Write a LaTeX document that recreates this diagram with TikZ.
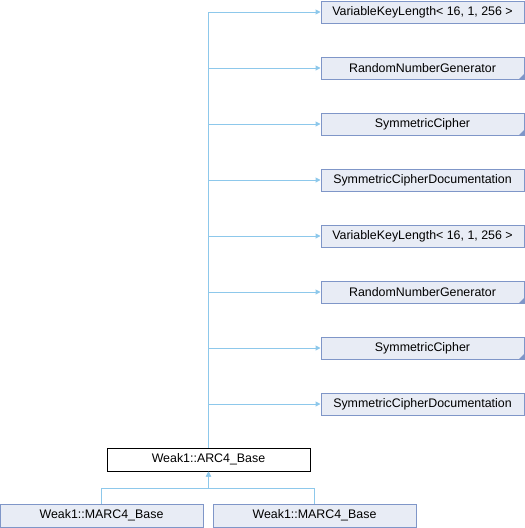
\documentclass[tikz,border=0pt]{standalone}
\usepackage{fontspec}
\setmainfont{Liberation Sans}
\usetikzlibrary{arrows.meta}
\definecolor{boxfill}{HTML}{E8ECF5}
\definecolor{boxline}{HTML}{7F96C8}
\definecolor{linkcol}{HTML}{8DC8EB}
\tikzset{every node/.style={align=center}}
\tikzset{
  classbox/.style={draw=boxline,fill=boxfill,line width=1pt,minimum width=203pt,minimum height=22pt,inner sep=0pt,font=\fontsize{12.4}{14}\selectfont},
  curbox/.style={classbox,draw=black,fill=white},
  link/.style={draw=linkcol,line width=1pt,-{Triangle[length=5pt,width=5pt]}}
}

\begin{document}
\begin{tikzpicture}[x=1pt,y=-1pt]
        \useasboundingbox (0,0) rectangle (525,528);

        \node[classbox] (vkl1) at (422.5,12) {VariableKeyLength< 16, 1, 256 >};
        \node[classbox] (rng1) at (422.5,68) {RandomNumberGenerator};
        \node[classbox] (sc1) at (422.5,124) {SymmetricCipher};
        \node[classbox] (scd1) at (422.5,180) {SymmetricCipherDocumentation};
        \node[classbox] (vkl2) at (422.5,236) {VariableKeyLength< 16, 1, 256 >};
        \node[classbox] (rng2) at (422.5,292) {RandomNumberGenerator};
        \node[classbox] (sc2) at (422.5,348) {SymmetricCipher};
        \node[classbox] (scd2) at (422.5,404) {SymmetricCipherDocumentation};

        % corner marks
        \fill[boxline] (rng1.south east) -- ++(-6,0) -- ++(6,-6) -- cycle;
        \fill[boxline] (sc1.south east) -- ++(-6,0) -- ++(6,-6) -- cycle;
        \fill[boxline] (rng2.south east) -- ++(-6,0) -- ++(6,-6) -- cycle;
        \fill[boxline] (sc2.south east) -- ++(-6,0) -- ++(6,-6) -- cycle;

        \node[curbox,minimum height=23pt] (arc4) at (208.5,459.5) {Weak1::ARC4\_Base};
        \node[classbox,minimum height=23pt] (marc1) at (101.5,515.5) {Weak1::MARC4\_Base};
        \node[classbox,minimum height=23pt] (marc2) at (314.5,515.5) {Weak1::MARC4\_Base};

        % arc4 to its bases
        \draw[link] (arc4.north) |- (vkl1.west);
        \draw[link] (arc4.north) |- (rng1.west);
        \draw[link] (arc4.north) |- (sc1.west);
        \draw[link] (arc4.north) |- (scd1.west);
        \draw[link] (arc4.north) |- (vkl2.west);
        \draw[link] (arc4.north) |- (rng2.west);
        \draw[link] (arc4.north) |- (sc2.west);
        \draw[link] (arc4.north) |- (scd2.west);

        % derived classes to arc4
        \coordinate (split) at (208.5,488);
        \draw[link] (marc1.north) |- (split) -- (arc4.south);
        \draw[link] (marc2.north) |- (split) -- (arc4.south);

    \end{tikzpicture}
\end{document}
